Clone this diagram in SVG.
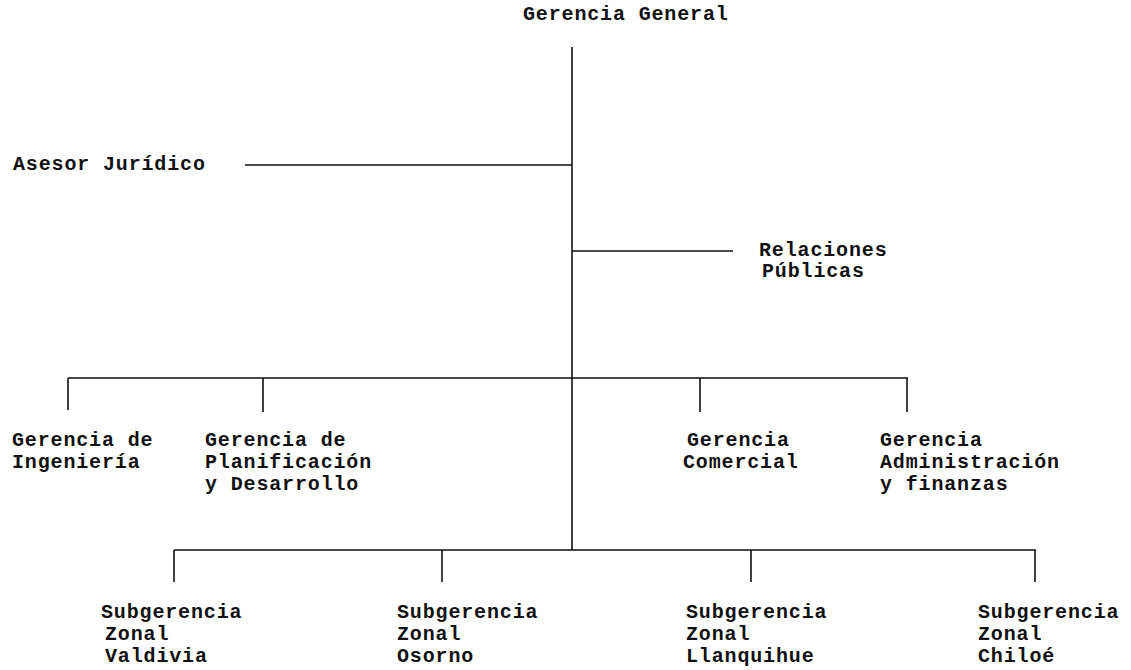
<svg xmlns="http://www.w3.org/2000/svg" width="1131" height="670" viewBox="0 0 1131 670">
<style>
.t{font-family:"Liberation Mono","Courier New",monospace;font-size:20px;font-weight:bold;letter-spacing:0.85px;fill:#111}
.c{stroke:#111;stroke-width:1.6;fill:none}
</style>
<rect width="1131" height="670" fill="#fff"/>
<g id="connectors">
<path class="c" d="M572 47V550"/>
<path class="c" d="M245 165H572"/>
<path class="c" d="M572 251H733"/>
<path class="c" d="M68 378H908M68 378V410M263 378V412M700 378V412M907 378V412"/>
<path class="c" d="M174 550H1036M174 550V582M442 550V582M751 550V582M1035 550V582"/>
</g>
<g id="gerencia-general"><text class="t" x="523" y="20">Gerencia General</text></g>
<g id="asesor-juridico"><text class="t" x="13" y="170">Asesor Jurídico</text></g>
<g id="relaciones-publicas"><text class="t" x="759" y="256">Relaciones</text><text class="t" x="762" y="277">Públicas</text></g>
<g id="gerencia-ingenieria"><text class="t" x="12" y="446">Gerencia de</text><text class="t" x="12" y="468">Ingeniería</text></g>
<g id="gerencia-planificacion"><text class="t" x="205" y="446">Gerencia de</text><text class="t" x="205" y="468">Planificación</text><text class="t" x="205" y="490">y Desarrollo</text></g>
<g id="gerencia-comercial"><text class="t" x="687" y="446">Gerencia</text><text class="t" x="683" y="468">Comercial</text></g>
<g id="gerencia-administracion"><text class="t" x="880" y="446">Gerencia</text><text class="t" x="880" y="468">Administración</text><text class="t" x="880" y="490">y finanzas</text></g>
<g id="sub-valdivia"><text class="t" x="101" y="618">Subgerencia</text><text class="t" x="105" y="640">Zonal</text><text class="t" x="105" y="662">Valdivia</text></g>
<g id="sub-osorno"><text class="t" x="397" y="618">Subgerencia</text><text class="t" x="397" y="640">Zonal</text><text class="t" x="397" y="662">Osorno</text></g>
<g id="sub-llanquihue"><text class="t" x="686" y="618">Subgerencia</text><text class="t" x="686" y="640">Zonal</text><text class="t" x="686" y="662">Llanquihue</text></g>
<g id="sub-chiloe"><text class="t" x="978" y="618">Subgerencia</text><text class="t" x="978" y="640">Zonal</text><text class="t" x="978" y="662">Chiloé</text></g>
</svg>
